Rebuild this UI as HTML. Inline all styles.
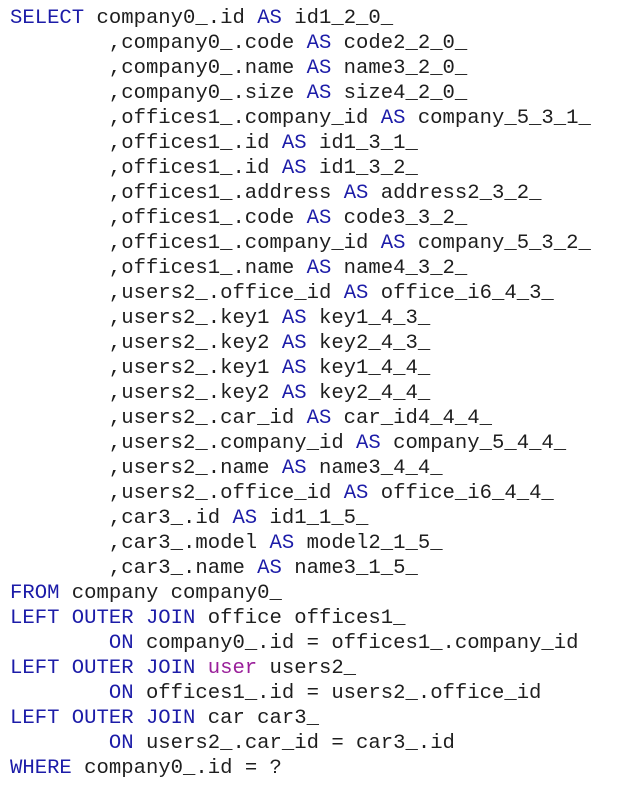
<!DOCTYPE html>
<html><head><meta charset="utf-8"><style>
body{margin:0;background:#fff;width:629px;height:788px;overflow:hidden}
pre{margin:0;position:absolute;left:10px;top:6px;font-family:"Liberation Mono","Courier New",monospace;font-size:20.6px;line-height:25px;color:#1e1e1e;white-space:pre}
b{font-weight:normal;color:#1c1ca8}
i{font-style:normal;color:#9a1f9a}
</style></head><body>
<pre><b>SELECT</b> company0_.id <b>AS</b> id1_2_0_
        ,company0_.code <b>AS</b> code2_2_0_
        ,company0_.name <b>AS</b> name3_2_0_
        ,company0_.size <b>AS</b> size4_2_0_
        ,offices1_.company_id <b>AS</b> company_5_3_1_
        ,offices1_.id <b>AS</b> id1_3_1_
        ,offices1_.id <b>AS</b> id1_3_2_
        ,offices1_.address <b>AS</b> address2_3_2_
        ,offices1_.code <b>AS</b> code3_3_2_
        ,offices1_.company_id <b>AS</b> company_5_3_2_
        ,offices1_.name <b>AS</b> name4_3_2_
        ,users2_.office_id <b>AS</b> office_i6_4_3_
        ,users2_.key1 <b>AS</b> key1_4_3_
        ,users2_.key2 <b>AS</b> key2_4_3_
        ,users2_.key1 <b>AS</b> key1_4_4_
        ,users2_.key2 <b>AS</b> key2_4_4_
        ,users2_.car_id <b>AS</b> car_id4_4_4_
        ,users2_.company_id <b>AS</b> company_5_4_4_
        ,users2_.name <b>AS</b> name3_4_4_
        ,users2_.office_id <b>AS</b> office_i6_4_4_
        ,car3_.id <b>AS</b> id1_1_5_
        ,car3_.model <b>AS</b> model2_1_5_
        ,car3_.name <b>AS</b> name3_1_5_
<b>FROM</b> company company0_
<b>LEFT OUTER JOIN</b> office offices1_
        <b>ON</b> company0_.id = offices1_.company_id
<b>LEFT OUTER JOIN</b> <i>user</i> users2_
        <b>ON</b> offices1_.id = users2_.office_id
<b>LEFT OUTER JOIN</b> car car3_
        <b>ON</b> users2_.car_id = car3_.id
<b>WHERE</b> company0_.id = ?</pre>
</body></html>
